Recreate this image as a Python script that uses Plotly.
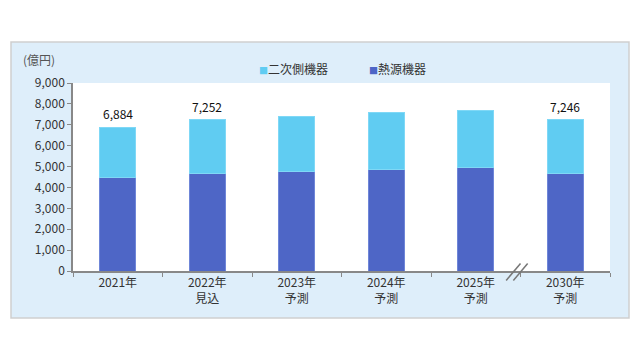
import plotly.graph_objects as go

categories = ["2021年", "2022年<br>見込", "2023年<br>予測", "2024年<br>予測", "2025年<br>予測", "2030年<br>予測"]
heat_source = [4460, 4670, 4780, 4875, 4970, 4650]
secondary = [2424, 2582, 2630, 2695, 2730, 2596]
total_labels = {0: "6,884", 1: "7,252", 5: "7,246"}
series_names = ["二次側機器", "熱源機器"]
series_colors = ["#60CCF2", "#4E66C6"]

FONT = "Noto Sans CJK JP"
fig = go.Figure()
fig.add_trace(go.Bar(x=categories, y=heat_source, name=series_names[1], showlegend=False,
                     marker=dict(color=series_colors[1], line=dict(color="#6F86D8", width=1))))
fig.add_trace(go.Bar(x=categories, y=secondary, name=series_names[0], showlegend=False,
                     marker=dict(color=series_colors[0], line=dict(color="#7FD8F6", width=1))))

for i, txt in total_labels.items():
    fig.add_annotation(x=categories[i], y=heat_source[i] + secondary[i], text=txt,
                       showarrow=False, yanchor="bottom", yshift=3,
                       font=dict(family=FONT, size=12, color="#111"))

# legend drawn as text annotations (small squares close to the labels)
for name, col, lx in zip(series_names, series_colors, [(257 - 73) / 537, (367 - 73) / 537]):
    fig.add_annotation(xref="paper", yref="paper", x=lx, y=(271 - 69) / 188,
                       text=f"<span style='color:{col};font-size:9px'>■</span>{name}",
                       showarrow=False, xanchor="left", yanchor="middle",
                       font=dict(family=FONT, size=12, color="#333"))

# outer light-blue box and white plot area
fig.add_shape(type="rect", xref="paper", yref="paper", x0=-62/537, x1=(629-73)/537,
              y0=(271-318)/188, y1=(271-42)/188, fillcolor="#DEEEFA",
              line=dict(color="#CFCFCF", width=1.5), layer="below")
fig.add_shape(type="rect", xref="paper", yref="paper", x0=0, x1=1, y0=0, y1=1,
              fillcolor="white", line=dict(width=0), layer="below")
# axis break marks
for dx in (-0.04, 0.04):
    fig.add_shape(type="line", xref="x", yref="paper", x0=4.46 + dx - 0.08, x1=4.46 + dx + 0.08,
                  y0=-0.05, y1=0.04, line=dict(color="#777", width=1.5))

fig.add_annotation(xref="paper", yref="paper", x=(21-73)/537, y=(271-60)/188,
                   text="(億円)", showarrow=False, xanchor="left", yanchor="middle",
                   font=dict(family=FONT, size=12, color="#555"))

fig.update_layout(
    width=640, height=360,
    margin=dict(l=65, r=38, t=75, b=97),
    barmode="stack", bargap=0.6,
    paper_bgcolor="white", plot_bgcolor="white",
    font=dict(family=FONT, size=12, color="#333"),
    showlegend=False,
    xaxis=dict(showline=True, linecolor="#888", linewidth=1.5, ticks="outside",
               tickson="boundaries", ticklen=4, tickcolor="#888", showgrid=False,
               tickfont=dict(family=FONT, size=12, color="#333")),
    yaxis=dict(range=[0, 9000], dtick=1000, tickformat=",", showline=True, linecolor="#888",
               linewidth=1.5, ticks="outside", ticklen=4, tickcolor="#888", showgrid=False,
               zeroline=False, tickfont=dict(family=FONT, size=12, color="#333")),
)

fig.write_html("out.html")
